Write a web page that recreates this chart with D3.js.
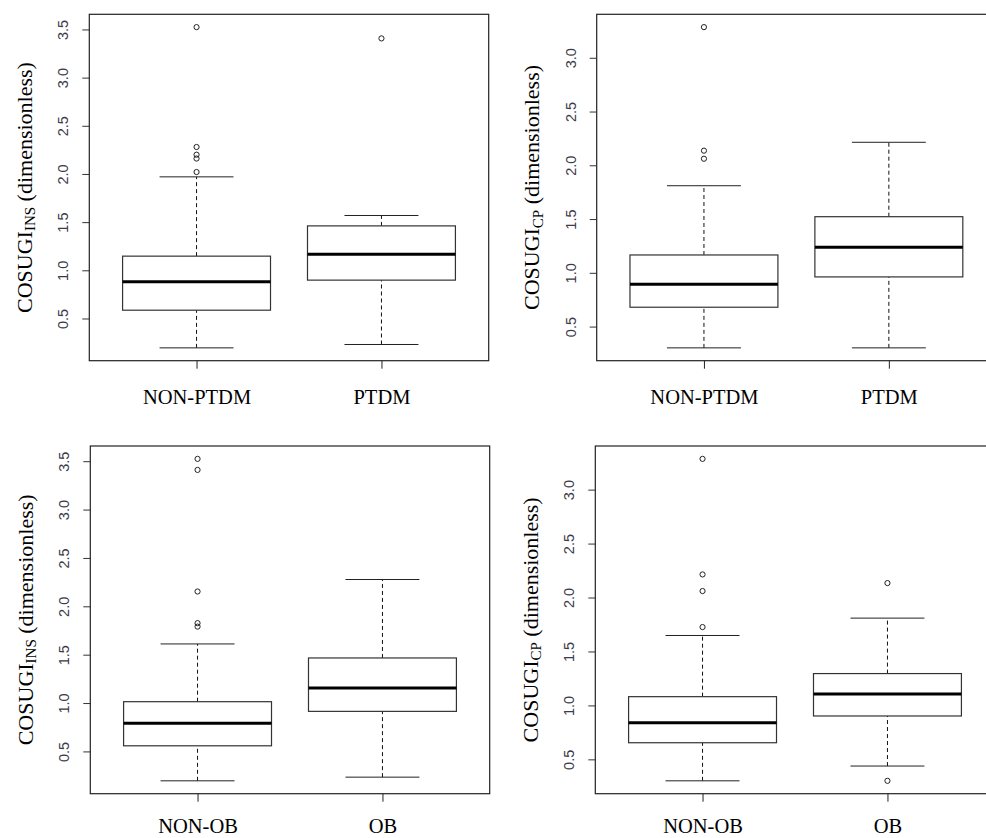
<!DOCTYPE html>
<html>
<head>
<meta charset="utf-8">
<script src="https://cdn.jsdelivr.net/npm/d3@7"></script>
<style>
  body { margin: 0; background: white; }
</style>
</head>
<body>
<div id="chart"></div>
<script>
// chart size
const width = 986;
const height = 838;

// groups
const ptdmGroups = ["NON-PTDM", "PTDM"];
const obGroups = ["NON-OB", "OB"];

// box stats per group: [lower whisker, Q1, median, Q3, upper whisker]
const insPtdmStats = [[0.195, 0.586, 0.88, 1.147, 1.97], [0.23, 0.898, 1.167, 1.461, 1.569]];
const insPtdmOutliers = [[2.02, 2.16, 2.20, 2.28, 3.524], [3.407]];

const cpPtdmStats = [[0.302, 0.68, 0.894, 1.166, 1.81], [0.302, 0.962, 1.238, 1.522, 2.214]];
const cpPtdmOutliers = [[2.061, 2.136, 3.285], []];

const insObStats = [[0.196, 0.558, 0.79, 1.014, 1.611], [0.234, 0.914, 1.156, 1.466, 2.277]];
const insObOutliers = [[1.79, 1.826, 2.153, 3.41, 3.524], []];

const cpObStats = [[0.301, 0.654, 0.84, 1.081, 1.648], [0.438, 0.902, 1.106, 1.295, 1.809]];
const cpObOutliers = [[1.726, 2.06, 2.214, 3.285], [0.301, 2.134]];

// tick labels
const insTicks = [0.5, 1.0, 1.5, 2.0, 2.5, 3.0, 3.5];
const cpTicks = [0.5, 1.0, 1.5, 2.0, 2.5, 3.0];

const svg = d3.select("#chart")
  .append("svg")
  .attr("width", width)
  .attr("height", height)
  .style("background-color", "white");

// one boxplot panel, R style
function drawPanel(opt) {
  const g = svg.append("g");

  // R pads the data range by 4%
  const all = opt.stats.flat().concat(opt.outliers.flat());
  const lo = d3.min(all), hi = d3.max(all);
  const pad = (hi - lo) * 0.04;

  const x = d3.scaleLinear()
    .domain([0.42, 2.58])
    .range([opt.left, opt.left + 399.4]);

  const y = d3.scaleLinear()
    .domain([lo - pad, hi + pad])
    .range([opt.bottom, opt.top]);

  const boxW = 0.4;   // half width in x units
  const capW = 0.2;

  const boxes = g.selectAll("g.box")
    .data(opt.stats)
    .enter().append("g")
    .attr("class", "box");

  // dashed whiskers
  boxes.append("line")
    .attr("x1", (d, i) => x(i + 1))
    .attr("x2", (d, i) => x(i + 1))
    .attr("y1", d => y(d[0]))
    .attr("y2", d => y(d[1]))
    .attr("stroke", "#111")
    .attr("stroke-dasharray", "4,3");
  boxes.append("line")
    .attr("x1", (d, i) => x(i + 1))
    .attr("x2", (d, i) => x(i + 1))
    .attr("y1", d => y(d[3]))
    .attr("y2", d => y(d[4]))
    .attr("stroke", "#111")
    .attr("stroke-dasharray", "4,3");

  // whisker caps
  boxes.append("line")
    .attr("x1", (d, i) => x(i + 1 - capW))
    .attr("x2", (d, i) => x(i + 1 + capW))
    .attr("y1", d => y(d[0]))
    .attr("y2", d => y(d[0]))
    .attr("stroke", "#222");
  boxes.append("line")
    .attr("x1", (d, i) => x(i + 1 - capW))
    .attr("x2", (d, i) => x(i + 1 + capW))
    .attr("y1", d => y(d[4]))
    .attr("y2", d => y(d[4]))
    .attr("stroke", "#222");

  // the box
  boxes.append("rect")
    .attr("x", (d, i) => x(i + 1 - boxW))
    .attr("width", (d, i) => x(i + 1 + boxW) - x(i + 1 - boxW))
    .attr("y", d => y(d[3]))
    .attr("height", d => y(d[1]) - y(d[3]))
    .attr("fill", "white")
    .attr("stroke", "#333")
    .attr("stroke-width", 1.2);

  // median
  boxes.append("line")
    .attr("x1", (d, i) => x(i + 1 - boxW))
    .attr("x2", (d, i) => x(i + 1 + boxW))
    .attr("y1", d => y(d[2]))
    .attr("y2", d => y(d[2]))
    .attr("stroke", "black")
    .attr("stroke-width", 3);

  // outliers
  opt.outliers.forEach((pts, i) => {
    g.selectAll(null)
      .data(pts)
      .enter().append("circle")
      .attr("cx", x(i + 1))
      .attr("cy", d => y(d))
      .attr("r", 2.6)
      .attr("fill", "none")
      .attr("stroke", "#222")
      .attr("stroke-width", 1);
  });

  // y axis
  const yAxis = g.append("g")
    .attr("transform", `translate(${opt.left},0)`)
    .call(d3.axisLeft(y).tickValues(opt.ticks).tickSize(7).tickFormat(d3.format(".1f")));
  yAxis.select(".domain").remove();
  yAxis.selectAll(".tick line").attr("stroke", "#333");
  yAxis.selectAll(".tick text")
    .attr("x", 0)
    .attr("y", -21)
    .attr("dy", 0)
    .attr("transform", "rotate(-90)")
    .attr("text-anchor", "middle")
    .style("font-family", "Liberation Sans, Arial, sans-serif")
    .style("font-size", "14.5px")
    .attr("fill", "#3a3a48");

  // x axis ticks and group labels
  const xAxis = g.append("g")
    .attr("transform", `translate(0,${opt.bottom})`)
    .call(d3.axisBottom(x).tickValues([1, 2]).tickSize(8).tickFormat((d, i) => opt.groups[i]));
  xAxis.select(".domain").remove();
  xAxis.selectAll(".tick line").attr("stroke", "#222");
  xAxis.selectAll(".tick text")
    .attr("y", opt.labelGap)
    .attr("dy", 0)
    .style("font-family", "Liberation Serif, Times New Roman, serif")
    .style("font-size", "20.5px")
    .attr("fill", "black");

  // frame
  g.append("rect")
    .attr("x", opt.left)
    .attr("y", opt.top)
    .attr("width", 399.4)
    .attr("height", opt.bottom - opt.top)
    .attr("fill", "none")
    .attr("stroke", "#222")
    .attr("stroke-width", 1.2);

  // y axis title with subscript
  const title = g.append("text")
    .attr("transform", `translate(${opt.left - 57.5},${(opt.top + opt.bottom) / 2}) rotate(-90)`)
    .attr("text-anchor", "middle")
    .style("font-family", "Liberation Serif, Times New Roman, serif")
    .style("font-size", "22px")
    .attr("fill", "black");
  title.append("tspan").text("COSUGI");
  title.append("tspan").attr("dy", 3.5).style("font-size", "15px").text(opt.sub);
  title.append("tspan").attr("dy", -3.5).text(" (dimensionless)");
}

drawPanel({ left: 89.3, top: 14.3, bottom: 360.7, labelGap: 43.5, groups: ptdmGroups,
  stats: insPtdmStats, outliers: insPtdmOutliers, ticks: insTicks, sub: "INS" });
drawPanel({ left: 596.7, top: 14.3, bottom: 360.7, labelGap: 43.5, groups: ptdmGroups,
  stats: cpPtdmStats, outliers: cpPtdmOutliers, ticks: cpTicks, sub: "CP" });
drawPanel({ left: 90.3, top: 446, bottom: 793.7, labelGap: 39, groups: obGroups,
  stats: insObStats, outliers: insObOutliers, ticks: insTicks, sub: "INS" });
drawPanel({ left: 595.3, top: 446, bottom: 793.7, labelGap: 39, groups: obGroups,
  stats: cpObStats, outliers: cpObOutliers, ticks: cpTicks, sub: "CP" });
</script>
</body>
</html>
